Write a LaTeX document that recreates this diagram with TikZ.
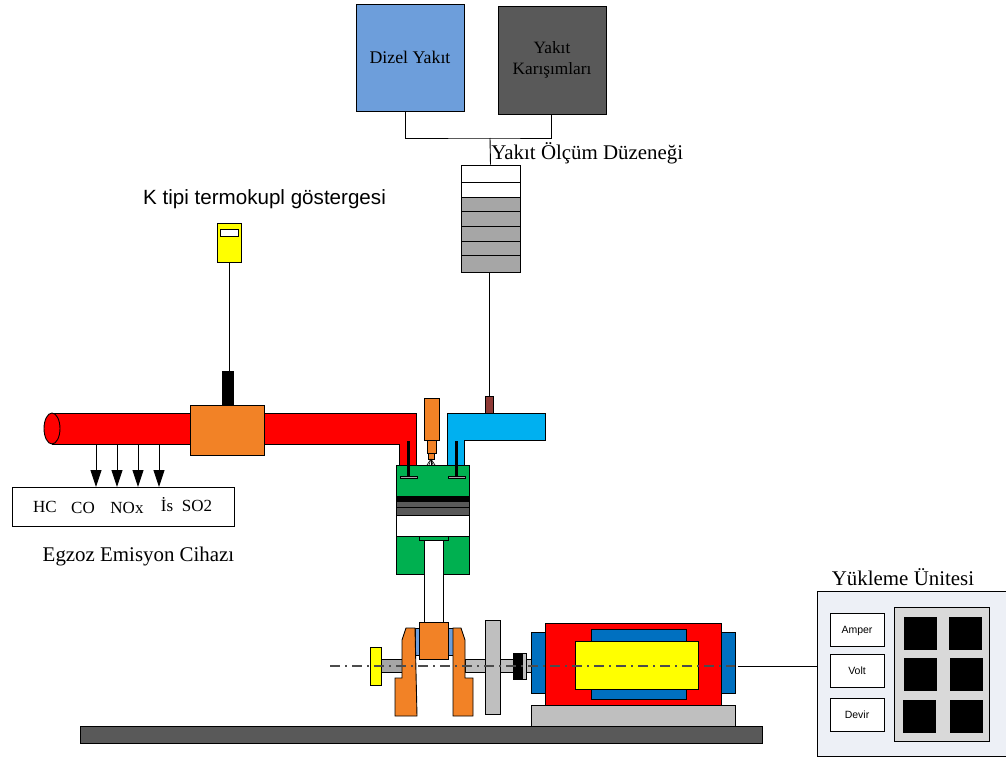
\documentclass[tikz,border=0pt]{standalone}
\usepackage{xcolor}
\usepackage{fontspec}
\setmainfont{Liberation Serif}
\setsansfont{Liberation Sans}
\usetikzlibrary{arrows.meta, positioning, calc}
\definecolor{fuelblue}{HTML}{6D9EDB}
\definecolor{darkgray}{HTML}{595959}
\definecolor{midgray}{HTML}{A6A6A6}
\definecolor{lightgray}{HTML}{BFBFBF}
\definecolor{blockorange}{HTML}{F28226}
\definecolor{intakeblue}{HTML}{00B0F0}
\definecolor{headgreen}{HTML}{00B050}
\definecolor{motorblue}{HTML}{0070C0}
\definecolor{sensorbrown}{HTML}{8F3A36}
\definecolor{panelblue}{HTML}{EDF0F6}
\definecolor{brightyellow}{HTML}{FFFF00}
\definecolor{pipered}{HTML}{FF0000}
\begin{document}
\begin{tikzpicture}[x=1pt, y=-1pt, line width=0.9pt,
        part/.style={rectangle, draw, inner sep=0pt},
        label/.style={inner sep=0pt, font=\fontsize{20.9}{23}\selectfont},
        gas/.style={inner sep=0pt, font=\fontsize{17}{19}\selectfont},
        meter/.style={part, fill=white, minimum width=54pt, minimum height=33pt, text height=7pt, text depth=0pt, font=\sffamily\fontsize{10.5}{12}\selectfont},
        pad/.style={rectangle, fill=black, minimum width=33pt, minimum height=33pt, inner sep=0pt},
        sample/.style={-{Triangle[length=17pt, width=11pt]}}]
        \useasboundingbox (0,0) rectangle (1006,758);

        % Fuel supply
        \node (Diesel) [part, fill=fuelblue, minimum width=108pt, minimum height=107pt, font=\fontsize{17.8}{20}\selectfont] at (410,57.5) {Dizel Yakıt};
        \node (Blend) [part, fill=darkgray, minimum width=108pt, minimum height=108pt, align=center, font=\fontsize{17.3}{21.5}\selectfont] at (552,60) {Yakıt\\Karışımları};
        \foreach \ya/\yb/\c in {165/182/white, 182/197/white, 197/211/midgray, 211/226/midgray, 226/241/midgray, 241/255/midgray, 255/272/midgray}
            \draw[fill=\c] (461,\ya) rectangle (520,\yb);
        \node (Tube) [part, minimum width=59pt, minimum height=107pt] at (490.5,218.5) {};
        \coordinate (Tee) at (490,138);
        \draw ([xshift=-5pt]Diesel.south) |- (Tee) -| ([xshift=-1pt]Blend.south);
        \draw (Tee) -- (Tube.north);
        \node (TubeLabel) [label, anchor=west] at (491,153) {Yakıt Ölçüm Düzeneği};

        % Exhaust and intake pipes
        \draw[fill=pipered] (52,413) -- (416,413) -- (416,465) -- (399,465) -- (399,444) -- (52,444) -- cycle;
        \draw[fill=pipered] (52,428.5) ellipse (8 and 15.5);
        \draw[fill=intakeblue] (447,465) -- (447,413) -- (545,413) -- (545,440) -- (464,440) -- (464,465) -- cycle;
        \node (Block) [part, fill=blockorange, minimum width=74pt, minimum height=50pt] at (227,430) {};

        % Thermocouple
        \node (Probe) [part, fill=black, minimum width=11pt, minimum height=34pt] at (227.5,388) {};
        \node (Gauge) [part, fill=brightyellow, minimum width=24pt, minimum height=39pt] at (229,242.5) {};
        \node (Screen) [part, fill=white, minimum width=18pt, minimum height=7pt] at (229,232.5) {};
        \draw (Gauge.south) -- (Gauge.south |- Probe.north);
        \node (GaugeLabel) [inner sep=0pt, font=\sffamily\fontsize{20.6}{23}\selectfont] at (264.5,199.5) {K tipi termokupl göstergesi};

        % Emission analyser
        \node (Analyser) [part, fill=white, minimum width=222pt, minimum height=39pt] at (123,506.5) {};
        \foreach \x in {96,117,138,159}
            \draw[sample] (\x,444) -- (\x,487);
        \node (HC) [gas] at (45,507) {HC};
        \node (CO) [gas] at (83,508) {CO};
        \node (NOx) [gas] at (127,508) {NOx};
        \node (Soot) [gas] at (167,505) {İs};
        \node (SOtwo) [gas] at (197,506) {SO2};
        \node (AnalyserLabel) [label] at (138.5,556) {Egzoz Emisyon Cihazı};

        % Fuel meter line and injector
        \node (Sensor) [part, fill=sensorbrown, minimum width=8pt, minimum height=17pt] at (489,404.5) {};
        \draw (Tube.south -| Sensor.north) -- (Sensor.north);
        \draw[fill=blockorange] (424,398) rectangle (439,440);
        \draw[fill=blockorange] (427,440) rectangle (436,453);
        \draw[fill=blockorange] (428,453) rectangle (434,459);
        \foreach \x in {427,429,431,433,435}
            \draw[line width=0.6pt] (431,459) -- (\x,465);

        % Cylinder and piston
        \draw[fill=headgreen] (396,465) rectangle (469,496);
        \draw[fill=black] (396,496) rectangle (469,501);
        \draw[fill=darkgray] (396,501) rectangle (469,507);
        \draw[fill=darkgray] (396,507) rectangle (469,515);
        \draw[fill=white] (396,515) rectangle (469,536);
        \draw[fill=headgreen] (396,536) rectangle (469,574);
        \draw[fill=white] (424,540) rectangle (443,622);
        \draw[fill=headgreen] (419,536) rectangle (448,540);
        \foreach \x/\xa/\xb in {408/400/417, 456/448/465} {
            \draw[line width=3pt] (\x,441) -- (\x,477);
            \draw[fill=midgray] (\xa,476) rectangle (\xb,478.5);
        }

        % Shaft and crank
        \draw[fill=midgray] (381,659) rectangle (402,672);
        \draw[fill=lightgray] (465,659) rectangle (531,672);
        \draw[fill=brightyellow] (370,647) rectangle (381,685);
        \draw[fill=fuelblue] (415,628) rectangle (419,655);
        \draw[fill=fuelblue] (448,628) rectangle (453,655);
        \draw[fill=blockorange] (406,628) -- (415,628) -- (417,716) -- (395,716) -- (395,678) -- (402,678) -- (402,640) -- cycle;
        \draw[fill=blockorange] (453,628) -- (461,628) -- (465,640) -- (465,678) -- (473,678) -- (473,716) -- (453,716) -- cycle;
        \draw[fill=blockorange] (419,622) rectangle (448,659);
        \draw[fill=lightgray] (485,620) rectangle (500,714);
        \draw[fill=black] (513,653) rectangle (522,679);
        \draw[fill=lightgray] (522,653) rectangle (526,679);

        % Motor and bed
        \node (Bed) [part, fill=darkgray, minimum width=682pt, minimum height=17pt] at (421,734.5) {};
        \node (Base) [part, fill=lightgray, minimum width=204pt, minimum height=21pt] at (633,715.5) {};
        \draw[fill=motorblue] (531,632) rectangle (545,693);
        \draw[fill=motorblue] (721,632) rectangle (735,693);
        \draw[fill=pipered] (545,623) rectangle (721,705);
        \draw[fill=motorblue] (591,629) rectangle (686,699);
        \draw[fill=brightyellow] (575,641) rectangle (698,689);
        \draw[line width=1.2pt, black!70, dash pattern=on 10pt off 5pt on 2pt off 5pt] (330,666) -- (735,666);

        % Load unit
        \node (Load) [part, fill=panelblue, minimum width=195pt, minimum height=165pt] at (914.5,673.5) {};
        \coordinate (Lead) at (738,666);
        \draw (Lead) -- (Lead -| Load.west);
        \node (LoadLabel) [inner sep=0pt, font=\fontsize{20.9}{23}\selectfont] at (903,577) {Yükleme Ünitesi};
        \node (Amper) [meter] at (857,629.5) {Amper};
        \node (Volt) [meter] at (857,671) {Volt};
        \node (Devir) [meter] at (857,715) {Devir};
        \node (Panel) [part, fill=black!15, minimum width=95pt, minimum height=134pt] at (941.5,674) {};
        \foreach \x/\y in {920/633, 965.5/633, 920/674.5, 966.5/674.5, 919/716.5, 966.5/716.5}
            \node [pad] at (\x,\y) {};
    \end{tikzpicture}
\end{document}
